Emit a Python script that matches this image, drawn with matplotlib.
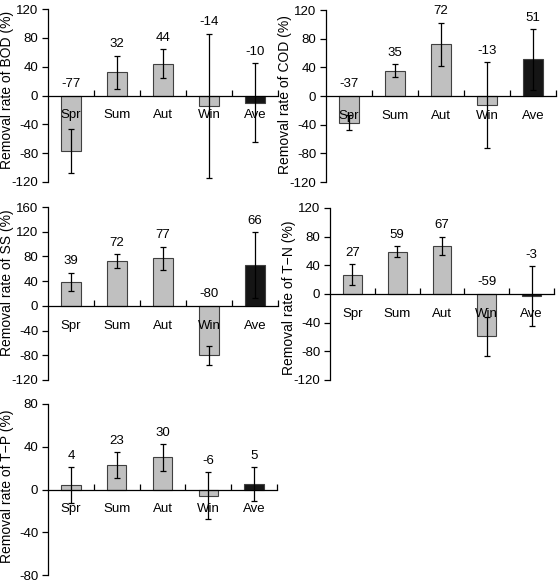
import numpy as np
import matplotlib
matplotlib.use("Agg")
import matplotlib.pyplot as plt

plt.rcParams['font.family'] = ['Liberation Sans', 'DejaVu Sans']
plt.rcParams['axes.unicode_minus'] = False

seasons = ["Spr", "Sum", "Aut", "Win", "Ave"]

bod = [-77, 32, 44, -14, -10]
bod_err = [30, 23, 20, 100, 55]
cod = [-37, 35, 72, -13, 51]
cod_err = [11, 9, 30, 60, 42]
ss = [39, 72, 77, -80, 66]
ss_err = [14.5, 11.5, 18.5, 15.5, 53]
tn = [27, 59, 67, -59, -3]
tn_err = [14.5, 7.5, 13, 27, 41.5]
tp = [4, 23, 30, -6, 5]
tp_err = [17, 12, 12.5, 22, 16]

W, H = 559, 580
fig = plt.figure(figsize=(W / 100, H / 100), dpi=100)


def px_axes(left, right, top, bottom):
    return fig.add_axes([left / W, 1 - bottom / H, (right - left) / W, (bottom - top) / H])


def panel(ax, vals, errs, name, ylim, step, width_px, label_y):
    x = np.arange(len(seasons))
    colors = ["#c0c0c0"] * 4 + ["#151515"]
    ax.bar(x, vals, width=0.42, color=colors, edgecolor="#404040", linewidth=0.8, zorder=1)
    ax.errorbar(x, vals, yerr=errs, fmt="none", ecolor="black", elinewidth=0.9,
                capsize=2.5, capthick=0.9, zorder=1.5)
    for xi, v, e in zip(x, vals, errs):
        top = max(0, v + e)
        ax.annotate(f"{v}", (xi, top), xytext=(0, 4), textcoords="offset points",
                    ha="center", va="bottom", fontsize=9.5)
    ax.set_xlim(-0.5, 4.5)
    ax.set_ylim(*ylim)
    ax.set_yticks(np.arange(ylim[0], ylim[1] + 1, step))
    ax.spines["top"].set_visible(False)
    ax.spines["right"].set_visible(False)
    ax.spines["bottom"].set_position(("data", 0))
    ax.spines["left"].set_bounds(*ylim)
    ax.spines["left"].set_linewidth(0.9)
    ax.spines["bottom"].set_linewidth(0.9)
    ax.set_xticks(np.arange(0.5, 5, 1))
    ax.set_xticklabels([])
    ax.tick_params(axis="x", which="major", direction="in", length=4, width=0.9)
    ax.set_xticks(x, minor=True)
    ax.set_xticklabels(seasons, minor=True, fontsize=9.5)
    ax.tick_params(axis="x", which="minor", length=0, pad=10)
    ax.tick_params(axis="y", direction="out", length=4, width=0.9, labelsize=9.5, pad=3)
    ax.xaxis.set_zorder(4)
    ax.set_ylabel(f"Removal rate of {name} (%)", fontsize=10)
    ax.yaxis.set_label_coords(-34 / width_px, label_y)
    ax.patch.set_alpha(0)


ax1 = px_axes(48, 278, 9, 182)
panel(ax1, bod, bod_err, "BOD", (-120, 120), 40, 230, 0.53)
ax2 = px_axes(326, 556, 10, 182)
panel(ax2, cod, cod_err, "COD", (-120, 120), 40, 230, 0.51)
ax3 = px_axes(48, 278, 207, 380)
panel(ax3, ss, ss_err, "SS", (-120, 160), 40, 230, 0.56)
ax4 = px_axes(330, 554, 208, 380)
panel(ax4, tn, tn_err, "T\u2212N", (-120, 120), 40, 224, 0.48)
ax5 = px_axes(48, 277, 404, 575)
panel(ax5, tp, tp_err, "T\u2212P", (-80, 80), 40, 229, 0.52)

fig.savefig("out.png", dpi=100)
